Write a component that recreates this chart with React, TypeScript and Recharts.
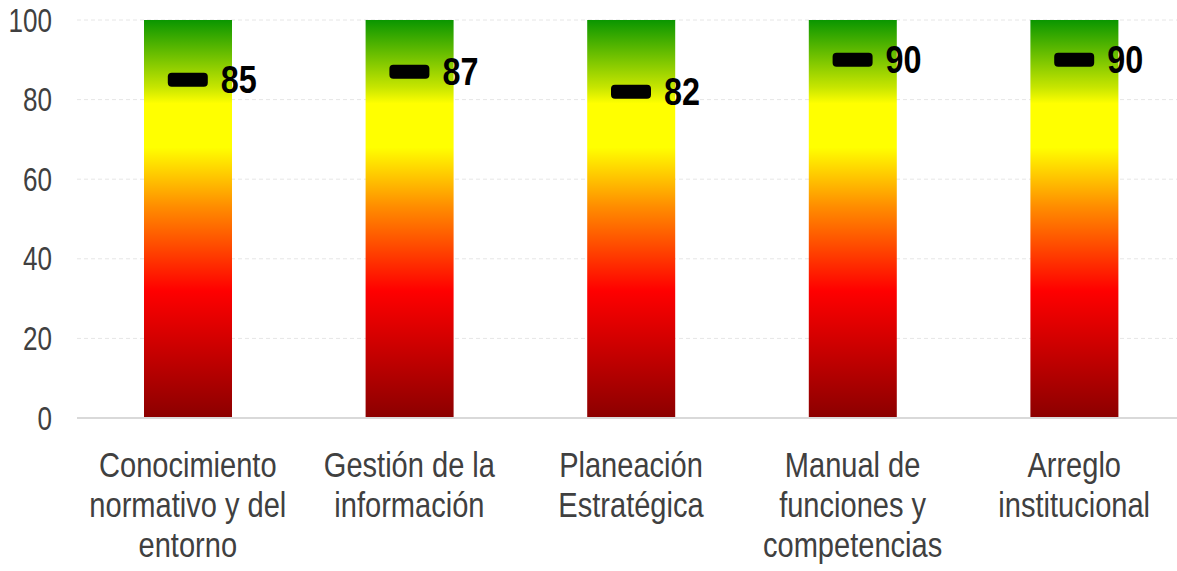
import { ComposedChart, Bar, Line, XAxis, YAxis, CartesianGrid, ReferenceLine } from "recharts"

const categories = [
  "Conocimiento\nnormativo y del\nentorno",
  "Gestión de la\ninformación",
  "Planeación\nEstratégica",
  "Manual de\nfunciones y\ncompetencias",
  "Arreglo\ninstitucional",
]
const scores = [85, 87, 82, 90, 90]
const scaleMax = [100, 100, 100, 100, 100]
const yTicks = [0, 20, 40, 60, 80, 100]

const data = categories.map((name, i) => ({ name, full: scaleMax[i], score: scores[i] }))

const SQUEEZE = 0.83

function YTick({ x, y, payload }: any) {
  return (
    <g transform={`translate(${x},${y}) scale(0.79,1)`}>
      <text x={0} y={0} dy={11.5} textAnchor="end" fontSize={33} fill="#404040" fontFamily="Liberation Sans, Arial, sans-serif">
        {payload.value}
      </text>
    </g>
  )
}

function XTick({ x, y, payload }: any) {
  const lines = String(payload.value).split("\n")
  return (
    <g transform={`translate(${x},${y}) scale(${SQUEEZE},1)`}>
      {lines.map((l, i) => (
        <text key={i} x={0} y={51 + i * 40} textAnchor="middle" fontSize={35} fill="#404040" fontFamily="Liberation Sans, Arial, sans-serif">
          {l}
        </text>
      ))}
    </g>
  )
}

function Marker({ cx, cy }: any) {
  if (cx == null || cy == null) return null
  return <rect x={cx - 20} y={cy - 7} width={40} height={14} rx={4} ry={4} fill="#000" />
}

function ScoreLabel({ x, y, value }: any) {
  return (
    <g transform={`translate(${x + 33},${y}) scale(${SQUEEZE},1)`}>
      <text x={0} y={0} dy={13} textAnchor="start" fontSize={39} fontWeight="bold" fill="#000" fontFamily="Liberation Sans, Arial, sans-serif">
        {value}
      </text>
    </g>
  )
}

export default function App() {
  return (
    <div style={{ position: "absolute", left: 0, top: 0, width: 1177, height: 571, overflow: "hidden", background: "#fff" }}>
      <ComposedChart width={1185} height={571} data={data} margin={{ top: 20, right: 0, bottom: 0, left: 0 }}>
        <defs>
          <linearGradient id="scaleGrad" x1="0" y1="0" x2="0" y2="1">
            <stop offset="0" stopColor="#0A9600" />
            <stop offset="0.17" stopColor="#C8E600" />
            <stop offset="0.21" stopColor="#FFFF00" />
            <stop offset="0.32" stopColor="#FFFF00" />
            <stop offset="0.47" stopColor="#FF8C00" />
            <stop offset="0.68" stopColor="#FF0000" />
            <stop offset="1" stopColor="#8B0000" />
          </linearGradient>
        </defs>
        <CartesianGrid vertical={false} stroke="#e6e6e6" strokeDasharray="4 3" />
        <XAxis dataKey="name" interval={0} axisLine={false} tickLine={false} height={153} tick={<XTick />} />
        <YAxis domain={[0, 100]} ticks={yTicks} axisLine={false} tickLine={false} width={77} tickMargin={19} tick={<YTick />} />
        <ReferenceLine y={0} stroke="#d9d9d9" strokeWidth={2} />
        <Bar dataKey="full" fill="url(#scaleGrad)" barSize={88} isAnimationActive={false} />
        <Line dataKey="score" stroke="none" dot={<Marker />} activeDot={false} label={<ScoreLabel />} isAnimationActive={false} />
      </ComposedChart>
    </div>
  )
}
